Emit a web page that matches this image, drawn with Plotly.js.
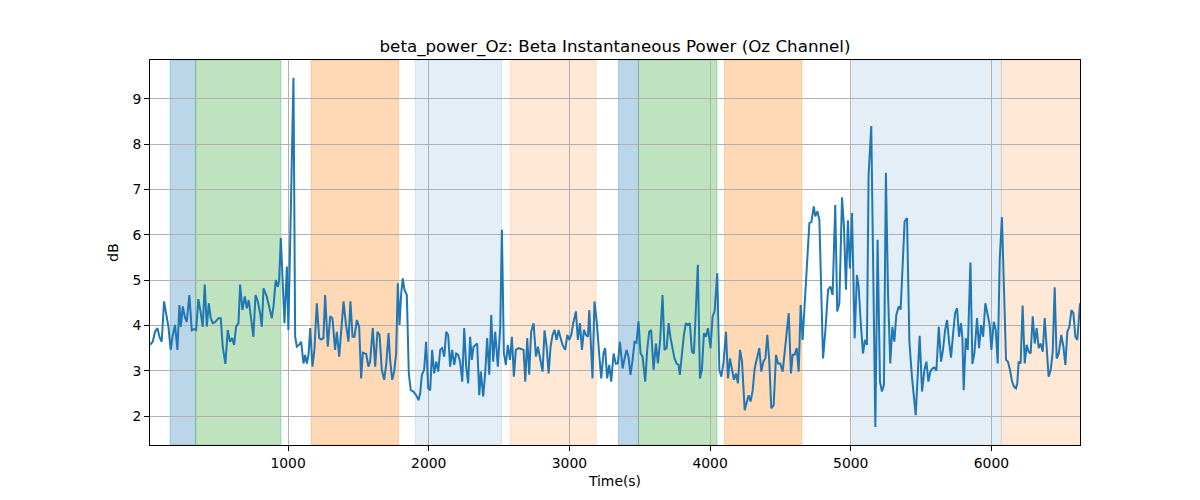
<!DOCTYPE html>
<html>
<head>
<meta charset="utf-8">
<script src="https://cdn.plot.ly/plotly-3.0.1.min.js"></script>
<style>
  body { margin: 0; background: #fff; }
  #chart { width: 1200px; height: 500px; }
</style>
</head>
<body>
<div id="chart"></div>
<script>
// time stamps (s)
var times = [
  18, 37, 54, 71, 85, 101, 118, 132, 149, 165, 180, 196, 213, 227, 237, 251, 265, 279, 298, 315,
  331, 346, 362, 379, 393, 407, 422, 436, 450, 464, 481, 505, 521, 535, 554, 571, 587, 602, 616, 630,
  647, 659, 675, 692, 706, 720, 737, 753, 768, 782, 801,
  813, 825, 848, 865, 884, 896, 912, 927, 936, 948, 960, 974, 991, 1002, 1038, 1050, 1062, 1078, 1093, 1109,
  1121, 1133, 1145, 1157, 1173, 1187, 1204, 1221, 1235, 1251, 1263, 1282, 1299, 1315, 1334, 1346, 1363, 1377, 1394, 1410,
  1429, 1443, 1458, 1472, 1489, 1505, 1519, 1531,
  1555, 1571, 1583, 1602, 1619, 1635, 1650, 1666, 1683, 1697, 1714, 1725, 1740, 1754, 1768, 1780, 1792, 1804, 1815, 1827,
  1844, 1858, 1872, 1891, 1910, 1927, 1939, 1951, 1967, 1981, 1996, 2010, 2024, 2038, 2053, 2067, 2081, 2095, 2110, 2124,
  2138, 2152, 2166, 2181, 2195, 2209, 2223, 2238, 2252, 2266, 2280, 2294,
  2306, 2318, 2330, 2344, 2359, 2370, 2387, 2401, 2415, 2430, 2444, 2458, 2472, 2491, 2508, 2520, 2534, 2548, 2562, 2577,
  2591, 2605, 2619, 2638, 2657, 2674, 2686, 2700, 2714, 2728, 2745, 2762, 2776, 2792, 2809, 2823, 2838, 2852, 2866, 2880,
  2894, 2909, 2923, 2937, 2951, 2970, 2985, 2999, 3013, 3027, 3046, 3060, 3075, 3089, 3103, 3117, 3132, 3141,
  3164, 3178, 3195, 3212, 3226, 3242, 3254, 3268, 3283, 3297, 3314, 3330, 3344, 3359, 3378, 3392, 3406, 3420, 3434, 3449,
  3463, 3477, 3491, 3506, 3520, 3539, 3553, 3567, 3581, 3598, 3615, 3629, 3645, 3662, 3676, 3691, 3705, 3719, 3733, 3747,
  3762, 3776, 3785, 3800, 3814, 3828, 3842, 3856, 3871, 3885, 3899, 3913, 3928, 3942, 3956, 3970, 3985, 4003,
  4018, 4032, 4051, 4066, 4080, 4096, 4113, 4127, 4141, 4156, 4170, 4184, 4198, 4213, 4227, 4246, 4260, 4274, 4288, 4303,
  4317, 4333, 4350, 4364, 4379, 4393, 4407, 4421, 4435, 4452, 4469, 4483, 4499, 4516, 4530, 4545, 4559, 4575, 4587, 4601,
  4616, 4630, 4644, 4658, 4673, 4689, 4706, 4720, 4737, 4748, 4763, 4777, 4791, 4803, 4820, 4839, 4855,
  4871, 4890, 4904, 4919, 4938, 4952, 4966, 4980, 4994, 5009, 5028, 5044, 5056, 5070, 5087, 5101, 5115, 5127, 5146, 5175,
  5191, 5208, 5222, 5236, 5250, 5265, 5281, 5296, 5310, 5324, 5341, 5355, 5369, 5383, 5400, 5417, 5435, 5450, 5462,
  5490, 5507, 5524, 5538, 5552, 5566, 5580, 5595, 5609, 5626, 5642, 5656, 5671, 5685, 5699, 5713, 5727, 5742, 5756, 5770,
  5784, 5794, 5803, 5818, 5832, 5851, 5865, 5879, 5898, 5912, 5927, 5941, 5957, 5974, 5988, 6000, 6017, 6031, 6045, 6059,
  6075, 6104, 6118, 6132, 6147, 6161, 6175, 6184, 6194, 6208, 6222, 6237, 6251, 6265, 6279, 6294, 6308, 6322, 6336, 6350,
  6365, 6379, 6393, 6407, 6422, 6436, 6450, 6464, 6479, 6497, 6512, 6526, 6540, 6554, 6569, 6583, 6597, 6611, 6630
];

// beta power, dB
var power = [
  3.57, 3.64, 3.86, 3.94, 3.75, 3.64, 4.53, 4.27, 3.97, 3.46, 3.79, 4.01, 3.46, 4.45, 3.97, 4.42, 4.2, 4.08, 4.67, 3.89,
  3.92, 3.9, 4.58, 4.27, 3.97, 4.9, 3.97, 4.49, 4.16, 4.05, 4.07, 4.16, 4.16, 3.53, 3.15, 3.9, 3.64, 3.72, 3.57, 3.97,
  4.05, 4.9, 4.34, 4.64, 4.38, 4.56, 4.2, 3.75, 4.67, 4.56, 4.27,
  3.97, 4.82, 4.64, 4.42, 4.16, 4.42, 5.0, 4.85, 5.0, 5.93, 4.97, 4.05, 5.3, 3.9, 9.47, 3.75, 3.53, 3.57, 3.64, 3.16,
  3.35, 3.16, 3.35, 3.94, 3.09, 3.46, 4.49, 3.72, 3.69, 3.72, 4.67, 3.53, 4.2, 4.16, 3.46, 3.86, 3.31, 3.9, 4.53, 4.05,
  3.64, 4.53, 3.75, 3.75, 4.12, 3.97, 2.83, 3.4,
  3.37, 3.09, 3.2, 3.94, 3.09, 3.86, 3.79, 3.02, 2.8, 3.13, 3.83, 3.24, 2.8, 2.98, 3.38, 4.93, 4.01, 4.71, 5.04, 4.79,
  4.67, 2.94, 2.57, 2.54, 2.46, 2.35, 2.5, 2.91, 3.02, 3.64, 2.61, 2.57, 3.46, 2.94, 3.2, 2.98, 3.46, 3.5, 3.31, 3.86,
  3.79, 3.09, 3.46, 3.13, 3.38, 3.35, 3.2, 2.76, 3.94, 3.09, 2.72, 3.75,
  3.24, 3.53, 3.57, 3.6, 2.46, 2.98, 2.43, 2.94, 3.72, 2.91, 4.23, 3.2, 3.86, 3.09, 3.97, 6.11, 3.38, 3.13, 3.57, 3.24,
  3.75, 2.87, 3.46, 3.5, 3.48, 3.46, 2.76, 3.72, 2.91, 3.86, 4.05, 3.31, 3.53, 3.27, 2.98, 3.89, 3.53, 2.94, 3.53, 3.79,
  3.9, 3.68, 3.9, 3.72, 3.57, 3.46, 3.79, 3.68, 3.79, 4.05, 4.31, 3.68, 4.05, 3.46, 3.9, 3.79, 3.75, 4.34,
  2.83, 4.53, 4.05, 3.35, 2.83, 3.38, 3.5, 2.83, 3.13, 2.76, 3.38, 3.15, 3.16, 3.64, 3.05, 3.27, 3.46, 3.31, 2.91, 3.24,
  3.64, 3.62, 4.09, 3.38, 3.31, 2.76, 3.46, 3.86, 3.9, 3.02, 3.6, 3.16, 3.68, 4.67, 3.46, 3.5, 4.05, 3.72, 3.46, 3.27,
  3.16, 3.13, 2.91, 3.38, 3.79, 4.05, 4.01, 4.05, 3.42, 3.38, 4.38, 5.34, 2.83, 3.02, 3.83, 3.75, 3.94, 3.5,
  4.2, 4.31, 5.15, 3.02, 2.87, 3.2, 3.86, 2.83, 3.27, 3.05, 2.8, 2.94, 2.72, 3.46, 3.2, 2.13, 2.32, 2.46, 2.32, 2.57,
  3.05, 3.24, 3.5, 2.98, 3.2, 3.27, 3.79, 3.2, 2.17, 2.24, 3.35, 3.16, 3.16, 2.98, 3.38, 3.79, 4.27, 2.94, 3.35, 3.35,
  3.5, 2.98, 4.45, 3.68, 4.56, 5.37, 6.26, 6.28, 6.63, 6.41, 6.52, 6.33, 4.71, 3.27, 3.9, 4.79, 4.86,
  4.67, 6.66, 4.31, 4.49, 6.83, 6.18, 4.79, 6.32, 5.26, 6.48, 3.72, 5.11, 4.86, 4.12, 3.38, 3.68, 3.57, 7.33, 8.4, 1.76,
  5.89, 2.76, 2.54, 2.69, 7.37, 4.71, 3.16, 3.97, 3.64, 4.23, 4.42, 4.35, 5.45, 6.3, 6.37, 3.64, 2.87, 2.45, 2.02,
  3.77, 2.54, 3.02, 3.2, 2.76, 2.98, 3.05, 3.07, 3.0, 3.97, 3.2, 3.46, 3.9, 4.12, 3.64, 3.29, 3.79, 4.27, 4.38, 3.75,
  4.05, 3.72, 2.57, 3.72, 3.46, 5.39, 3.15, 3.38, 4.16, 3.5, 4.01, 3.75, 4.49, 4.2, 4.01, 3.46, 4.08, 3.9, 3.16, 5.45,
  6.39, 3.24, 3.2, 3.02, 2.76, 2.65, 2.61, 2.72, 3.2, 3.16, 4.44, 3.16, 3.57, 3.42, 3.38, 4.2, 3.6, 3.94, 3.5, 3.6,
  3.42, 4.16, 3.53, 2.87, 3.02, 3.42, 4.84, 3.27, 3.38, 3.79, 3.53, 3.13, 3.86, 3.97, 4.34, 4.27, 3.75, 3.68, 4.49
];

// shaded task blocks
var spanStart = [161, 343, 1163, 1903, 2579, 3349, 3491, 4103, 5010, 6071];
var spanEnd   = [343, 949, 1785, 2518, 3191, 3491, 4049, 4653, 6071, 6640];
var spanColor = [
  'rgba(31,119,180,0.3)', 'rgba(44,160,44,0.3)', 'rgba(255,127,14,0.3)',
  'rgba(31,119,180,0.12)', 'rgba(255,127,14,0.17)',
  'rgba(31,119,180,0.3)', 'rgba(44,160,44,0.3)', 'rgba(255,127,14,0.3)',
  'rgba(31,119,180,0.12)', 'rgba(255,127,14,0.17)'
];

var shapes = [];
for (var i = 0; i < spanStart.length; i++) {
  shapes.push({
    type: 'rect', xref: 'x', yref: 'paper',
    x0: spanStart[i], x1: spanEnd[i], y0: 0, y1: 1,
    fillcolor: spanColor[i],
    line: {width: 1, color: spanColor[i]},
    layer: 'below'
  });
}

var font = {family: 'DejaVu Sans, sans-serif', size: 13.9, color: '#000'};

var axisBase = {
  showline: true, mirror: true, linecolor: '#000', linewidth: 1,
  ticks: 'outside', ticklen: 5, tickwidth: 1, tickcolor: '#000',
  showgrid: true, gridcolor: '#b0b0b0', gridwidth: 0.8,
  zeroline: false, tickfont: font
};

var trace = {
  x: times, y: power,
  type: 'scatter', mode: 'lines',
  line: {color: '#1f77b4', width: 2},
  hoverinfo: 'x+y'
};

var layout = Object.assign({
  width: 1200, height: 500,
  margin: {l: 150, r: 120, t: 60, b: 55},
  paper_bgcolor: '#fff', plot_bgcolor: '#fff',
  showlegend: false,
  font: font,
  title: {
    text: 'beta_power_Oz: Beta Instantaneous Power (Oz Channel)',
    font: {family: 'DejaVu Sans, sans-serif', size: 16.7, color: '#000'},
    x: 0.5125, xanchor: 'center', yref: 'container', y: 0.908, yanchor: 'middle'
  },
  xaxis: Object.assign({}, axisBase, {
    range: [times[0], times[times.length - 1]],
    dtick: 1000, tick0: 0,
    title: {text: 'Time(s)', font: font, standoff: 6}
  }),
  yaxis: Object.assign({}, axisBase, {
    range: [1.36, 9.86],
    dtick: 1, tick0: 0,
    title: {text: 'dB', font: font, standoff: 10}
  }),
  shapes: shapes
});

Plotly.newPlot('chart', [trace], layout, {displayModeBar: false});
</script>
</body>
</html>
